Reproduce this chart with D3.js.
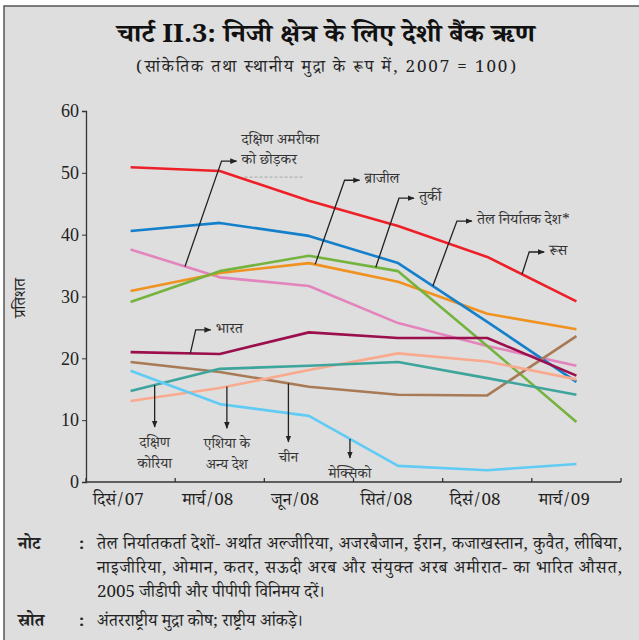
<!DOCTYPE html>
<html>
<head>
<meta charset="utf-8">
<script src="https://cdn.jsdelivr.net/npm/d3@7"></script>
<style>
  body { margin: 0; background: #fff; }
  svg text { font-family: "Noto Serif Devanagari", "Noto Sans Devanagari", "Lohit Devanagari", "Liberation Serif", serif; }
</style>
</head>
<body>
<svg id="chart" width="639" height="640"></svg>
<script>
const width = 639;
const height = 640;

// x categories (quarters)
const periods = ["दिसं/07", "मार्च/08", "जून/08", "सितं/08", "दिसं/08", "मार्च/09"];
const yTicks = [0, 10, 20, 30, 40, 50, 60];

// series values
const russia     = [50.9, 50.3, 45.5, 41.4, 36.4, 29.2];
const oilExport  = [40.6, 41.9, 39.8, 35.4, 25.9, 16.2];
const brazil     = [30.9, 33.8, 35.4, 32.4, 27.2, 24.7];
const turkey     = [29.1, 34.1, 36.6, 34.1, 22.0,  9.7];
const exSouthAm  = [37.6, 33.1, 31.7, 25.7, 22.0, 18.8];
const india      = [21.0, 20.7, 24.2, 23.3, 23.3, 17.2];
const korea      = [14.7, 18.3, 18.8, 19.4, 16.8, 14.1];
const otherAsia  = [13.1, 15.2, 18.1, 20.8, 19.5, 16.6];
const china      = [19.4, 17.8, 15.4, 14.1, 14.0, 23.6];
const mexico     = [18.0, 12.6, 10.7,  2.6,  1.9,  2.9];

const series = [
  { key: "exSouthAm", values: exSouthAm, color: "#e384bd" },
  { key: "brazil",    values: brazil,    color: "#f0921f" },
  { key: "turkey",    values: turkey,    color: "#74b43e" },
  { key: "oilExport", values: oilExport, color: "#1480cc" },
  { key: "china",     values: china,     color: "#a87a56" },
  { key: "otherAsia", values: otherAsia, color: "#f9aa8e" },
  { key: "korea",     values: korea,     color: "#3ea59c" },
  { key: "india",     values: india,     color: "#9c0f4d" },
  { key: "mexico",    values: mexico,    color: "#60cbf4" },
  { key: "russia",    values: russia,    color: "#ee2027" }
];

// callouts: t = position along x (in period index) where the leader leaves the line
const sideLabels = [
  { key: "exSouthAm", t: 0.61, ex: 1.02, ev: 51.9, lines: ["दक्षिण अमरीका", "को छोड़कर"] },
  { key: "brazil",    t: 2.07, ex: 2.40, ev: 48.8, lines: ["ब्राजील"] },
  { key: "turkey",    t: 2.75, ex: 3.01, ev: 45.9, lines: ["तुर्की"] },
  { key: "oilExport", t: 3.39, ex: 3.66, ev: 42.2, lines: ["तेल निर्यातक देश*"] },
  { key: "russia",    t: 4.39, ex: 4.47, ev: 37.2, lines: ["रूस"] },
  { key: "india",     t: 0.67, ex: 0.73, ev: 24.6, lines: ["भारत"] }
];
const downLabels = [
  { key: "korea",     t: 0.27, ev: 8.9, lines: ["दक्षिण", "कोरिया"] },
  { key: "otherAsia", t: 1.08, ev: 8.7, lines: ["एशिया के", "अन्य देश"] },
  { key: "china",     t: 1.77, ev: 6.5, lines: ["चीन"] },
  { key: "mexico",    t: 2.46, ev: 3.9, lines: ["मेक्सिको"] }
];

const svg = d3.select("#chart");

// frame
svg.append("rect").attr("x", 4).attr("y", 6).attr("width", width).attr("height", height)
  .attr("fill", "#dedede");
svg.append("path").attr("d", `M4,${height} V6 H${width}`)
  .attr("fill", "none").attr("stroke", "#555").attr("stroke-width", 1.5);

// titles
svg.append("text").attr("x", 326).attr("y", 42).attr("text-anchor", "middle")
  .attr("font-size", 25).attr("font-weight", "bold").attr("fill", "#111")
  .attr("textLength", 418).attr("lengthAdjust", "spacingAndGlyphs")
  .text("चार्ट II.3: निजी क्षेत्र के लिए देशी बैंक ऋण");
svg.append("text").attr("x", 326).attr("y", 72).attr("text-anchor", "middle")
  .attr("font-size", 17).attr("fill", "#222")
  .attr("textLength", 380)
  .text("(सांकेतिक तथा स्थानीय मुद्रा के रूप में, 2007 = 100)");

const x = d3.scaleBand().domain(periods).range([86, 621]).padding(0);
const y = d3.scaleLinear().domain([0, 60]).range([482, 111]);
const cx = i => x(periods[0]) + x.bandwidth() * (i + 0.5);

// y value of a series at fractional index t
function valueAt(vals, t) {
  const i = Math.min(Math.floor(t), vals.length - 2);
  return d3.interpolateNumber(vals[i], vals[i + 1])(t - i);
}

// y axis
const yAxis = svg.append("g").attr("transform", "translate(86,0)")
  .call(d3.axisLeft(y).tickValues(yTicks).tickSize(4).tickPadding(3));
yAxis.select(".domain").attr("stroke", "#333").attr("stroke-width", 1.3);
yAxis.selectAll(".tick line").attr("stroke", "#333");
yAxis.selectAll(".tick text").attr("font-size", 18).attr("fill", "#222")
  .style("font-family", "'Liberation Serif', serif");

svg.append("text")
  .attr("transform", "translate(25,298) rotate(-90)")
  .attr("text-anchor", "middle").attr("font-size", 16).attr("fill", "#222")
  .text("प्रतिशत");

// x axis
const xAxis = svg.append("g").attr("transform", "translate(0,482)");
xAxis.append("line").attr("x1", 86).attr("x2", 621).attr("stroke", "#333").attr("stroke-width", 1.3);
xAxis.selectAll(".xtick")
  .data(periods.map(p => x(p)).concat([x.range()[1]]))
  .join("line")
  .attr("class", "xtick")
  .attr("x1", d => d).attr("x2", d => d)
  .attr("y1", 0).attr("y2", -4)
  .attr("stroke", "#333").attr("stroke-width", 1.3);
xAxis.selectAll(".xlabel")
  .data(periods)
  .join("text")
  .attr("class", "xlabel")
  .attr("x", d => x(d) + 7)
  .attr("y", 23)
  .attr("font-size", 17).attr("fill", "#222")
  .text(d => d);

// lines
const line = d3.line().x((d, i) => cx(i)).y(d => y(d));
svg.append("g").selectAll("path")
  .data(series)
  .join("path")
  .attr("d", d => line(d.values))
  .attr("fill", "none")
  .attr("stroke", d => d.color)
  .attr("stroke-width", 2.6)
  .attr("stroke-linejoin", "round");

// arrow marker
svg.append("defs").append("marker")
  .attr("id", "arrow").attr("viewBox", "0 0 10 10")
  .attr("refX", 9).attr("refY", 5)
  .attr("markerWidth", 7).attr("markerHeight", 7)
  .attr("markerUnits", "userSpaceOnUse")
  .attr("orient", "auto")
  .append("path").attr("d", "M0,1 L10,5 L0,9 Z").attr("fill", "#222");

const byKey = new Map(series.map(s => [s.key, s]));

// elbow callouts
const ann = svg.append("g");
sideLabels.forEach(c => {
  const s = byKey.get(c.key);
  const x0 = cx(c.t), y0 = y(valueAt(s.values, c.t));
  const x1 = cx(c.ex), y1 = y(c.ev);
  ann.append("path")
    .attr("d", `M${x0},${y0} L${x1},${y1} H${x1 + 15}`)
    .attr("fill", "none").attr("stroke", "#222").attr("stroke-width", 1.3)
    .attr("marker-end", "url(#arrow)");
  const off = c.lines.length > 1 ? -17 : 3;
  c.lines.forEach((t, k) => {
    ann.append("text")
      .attr("x", x1 + 20).attr("y", y1 + off + k * 20)
      .attr("font-size", 15).attr("fill", "#333")
      .text(t);
  });
  if (c.lines.length > 1) {
    ann.append("line")
      .attr("x1", x1 + 23).attr("x2", x1 + 83)
      .attr("y1", y1 + 16).attr("y2", y1 + 16)
      .attr("stroke", "#999").attr("stroke-width", 0.8)
      .attr("stroke-dasharray", "3,2");
  }
});

// downward callouts
downLabels.forEach(c => {
  const s = byKey.get(c.key);
  const x0 = cx(c.t), y0 = y(valueAt(s.values, c.t));
  const y1 = y(c.ev);
  ann.append("path")
    .attr("d", `M${x0},${y0} V${y1}`)
    .attr("fill", "none").attr("stroke", "#222").attr("stroke-width", 1.3)
    .attr("marker-end", "url(#arrow)");
  c.lines.forEach((t, k) => {
    ann.append("text")
      .attr("x", x0).attr("y", y1 + 20 + k * 21)
      .attr("text-anchor", "middle")
      .attr("font-size", 14.5).attr("fill", "#333")
      .text(t);
  });
});

// notes
const notes = svg.append("g").attr("font-size", 17).attr("fill", "#222");
notes.append("text").attr("x", 18).attr("y", 549).attr("font-weight", "bold").text("नोट");
notes.append("text").attr("x", 79).attr("y", 549).attr("font-weight", "bold").text(":");
[
  "तेल निर्यातकर्ता देशों- अर्थात अल्जीरिया, अजरबैजान, ईरान, कजाखस्तान, कुवैत, लीबिया,",
  "नाइजीरिया, ओमान, कतर, सऊदी अरब और संयुक्त अरब अमीरात- का भारित औसत,",
  "2005 जीडीपी और पीपीपी विनिमय दरें।"
].forEach((t, k) => {
  notes.append("text").attr("x", 97).attr("y", 549 + k * 24)
    .attr("textLength", k < 2 ? 525 : null)
    .text(t);
});
notes.append("text").attr("x", 18).attr("y", 626).attr("font-weight", "bold").text("स्रोत");
notes.append("text").attr("x", 79).attr("y", 626).attr("font-weight", "bold").text(":");
notes.append("text").attr("x", 97).attr("y", 626).text("अंतरराष्ट्रीय मुद्रा कोष; राष्ट्रीय आंकड़े।");
</script>
</body>
</html>
